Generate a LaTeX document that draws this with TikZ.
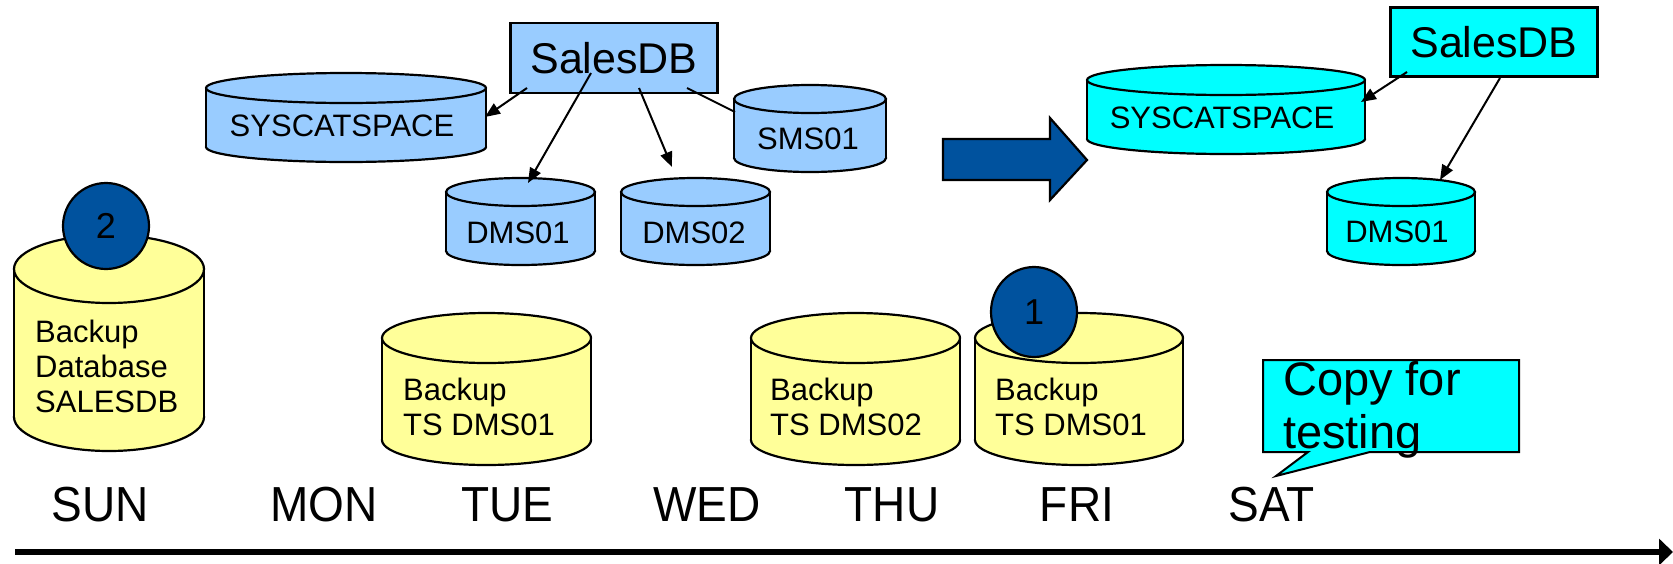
\documentclass[tikz,border=0pt]{standalone}
\usepackage{fontspec}
\setmainfont{Liberation Sans}
\usetikzlibrary{arrows.meta,shapes.geometric}

\definecolor{paleblue}{RGB}{153,204,255}
\definecolor{aqua}{RGB}{0,255,255}
\definecolor{paleyellow}{RGB}{255,255,153}
\definecolor{deepblue}{RGB}{0,82,158}

% upright drum: left x, top y, right x, bottom y, rim radius, fill
\newcommand{\drum}[6]{%
  \pgfmathsetmacro\drumcx{(#1+#3)/2}%
  \pgfmathsetmacro\drumrx{(#3-#1)/2}%
  \path[outline, fill=#6] (\drumcx,#4-#5) ellipse[x radius=\drumrx, y radius=#5];
  \fill[#6] (#1,#2+#5) rectangle (#3,#4-#5);
  \draw[outline] (#1,#2+#5) -- (#1,#4-#5) (#3,#2+#5) -- (#3,#4-#5);
  \path[outline, fill=#6] (\drumcx,#2+#5) ellipse[x radius=\drumrx, y radius=#5];
}
\newcommand{\tallword}[1]{\scalebox{1}[1.07]{#1}}

\tikzset{
  outline/.style={draw=black, line width=2.2pt},
  lbl/.style={inner sep=0pt, font=\fontsize{31}{35}\selectfont},
  tslbl/.style={inner sep=0pt, align=left, anchor=west, font=\fontsize{31}{35}\selectfont},
  dbbox/.style={draw=black, line width=2.2pt, inner sep=0pt, font=\fontsize{43}{48}\selectfont},
  link/.style={line width=2pt, -{Triangle[length=15pt,width=12pt]}},
  plainlink/.style={line width=2pt},
  day/.style={inner sep=0pt, font=\fontsize{46}{50}\selectfont},
  badge/.style={ellipse, fill=deepblue, draw=black, line width=2.2pt, inner sep=0pt, font=\fontsize{36}{40}\selectfont},
  calloutline/.style={inner sep=0pt, anchor=base west, font=\fontsize{47}{54}\selectfont},
}

\begin{document}
\begin{tikzpicture}[x=1pt, y=-1pt]
\useasboundingbox (0,0) rectangle (1673,563);
\fill[white] (0,0) rectangle (1673,563);

% ---- current layout of SalesDB ----
\drum{206}{73}{486}{162}{15}{paleblue}
\node[lbl] (sys) at (342,126) {SYSCATSPACE};
\drum{734}{85}{886}{172}{14}{paleblue}
\node[lbl] (sms) at (808,139) {SMS01};
\drum{446}{178}{595}{265}{14}{paleblue}
\node[lbl] (dmsa) at (518,233) {DMS01};
\drum{621}{178}{770}{265}{14}{paleblue}
\node[lbl] (dmsb) at (694,233) {DMS02};
\node[dbbox, fill=paleblue, minimum width=207pt, minimum height=70pt] (sales) at (614,58) {SalesDB};

\coordinate (sa1) at (527,88);  \coordinate (sysin) at (485,117);
\coordinate (sa2) at (591,73);  \coordinate (dmsain) at (528,183);
\coordinate (sa3) at (639,88);  \coordinate (dmsbin) at (672,167);
\coordinate (sa4) at (687,88);  \coordinate (smsin) at (735,112);
\draw[link] (sa1) -- (sysin);
\draw[link] (sa2) -- (dmsain);
\draw[link] (sa3) -- (dmsbin);
\draw[plainlink] (sa4) -- (smsin);

% ---- restore direction ----
\path[fill=deepblue, draw=black, line width=2.2pt]
  (943,139) -- (1050,139) -- (1050,118) -- (1087,160) -- (1050,200) -- (1050,180) -- (943,180) -- cycle;

% ---- test copy ----
\drum{1087}{65}{1365}{154}{15}{aqua}
\node[lbl] (syst) at (1222,118) {SYSCATSPACE};
\drum{1327}{178}{1475}{265}{14}{aqua}
\node[lbl] (dmst) at (1397,232) {DMS01};
\node[dbbox, fill=aqua, minimum width=207pt, minimum height=69pt] (salest) at (1494,42) {SalesDB};
\coordinate (sb1) at (1407,72);  \coordinate (systin) at (1361,102);
\coordinate (sb2) at (1500,78);  \coordinate (dmstin) at (1440,180);
\draw[link] (sb1) -- (systin);
\draw[link] (sb2) -- (dmstin);

% ---- backup images ----
\drum{14}{235}{204}{451}{34}{paleyellow}
\node[tslbl] (fullbk) at (35,366) {Backup\\Database\\SALESDB};
\node[badge, minimum width=86pt, minimum height=86pt] (two) at (106,226) {2};

\drum{382}{313}{591}{465}{25}{paleyellow}
\node[tslbl] (tuebk) at (403,407) {Backup\\TS DMS01};
\drum{751}{313}{960}{465}{25}{paleyellow}
\node[tslbl] (thubk) at (770,407) {Backup\\TS DMS02};
\drum{975}{313}{1183}{465}{25}{paleyellow}
\node[tslbl] (fribk) at (995,407) {Backup\\TS DMS01};
\node[badge, minimum width=86pt, minimum height=90pt] (one) at (1034,312) {1};

% ---- callout ----
\path[fill=aqua, draw=black, line width=2pt]
  (1263,360) -- (1519,360) -- (1519,452) -- (1370,452) -- (1276,476) -- (1308,452) -- (1263,452) -- cycle;
\node[calloutline] (copyA) at (1283,395) {Copy for};
\node[calloutline] (copyB) at (1283,448) {testing};

% ---- week ----
\node[day] (sun) at (100,505) {\tallword{SUN}};
\node[day] (mon) at (324,505) {\tallword{MON}};
\node[day] (tue) at (507,505) {\tallword{TUE}};
\node[day] (wed) at (707,505) {\tallword{WED}};
\node[day] (thu) at (892,505) {\tallword{THU}};
\node[day] (fri) at (1077,505) {\tallword{FRI}};
\node[day] (sat) at (1272,505) {\tallword{SAT}};

\coordinate (t0) at (15,552);
\coordinate (t1) at (1673,552);
\draw[line width=6pt, -{Triangle[length=14pt,width=26pt]}] (t0) -- (t1);
\end{tikzpicture}
\end{document}
